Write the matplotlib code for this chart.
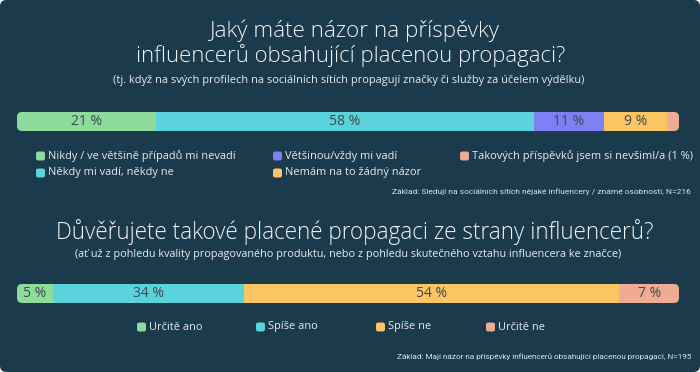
import matplotlib.pyplot as plt
from matplotlib.patches import FancyBboxPatch

# --- data ---
q1_title = ['Jaký máte názor na příspěvky', 'influencerů obsahující placenou propagaci?']
q1_sub = '(tj. když na svých profilech na sociálních sítích propagují značky či služby za účelem výdělku)'
q1_cats = ['Nikdy / ve většině případů mi nevadí', 'Někdy mi vadí, někdy ne', 'Většinou/vždy mi vadí',
           'Nemám na to žádný názor', 'Takových příspěvků jsem si nevšiml/a (1 %)']
q1_labels = [21, 58, 11, 9, None]
q1_widths = [21.0, 57.1, 10.6, 9.5, 1.8]
q1_base = 'Základ: Sledují na sociálních sítích nějaké influencery / známé osobnosti, N=216'

q2_title = 'Důvěřujete takové placené propagaci ze strany influencerů?'
q2_sub = '(ať už z pohledu kvality propagovaného produktu, nebo z pohledu skutečného vztahu influencera ke značce)'
q2_cats = ['Určitě ano', 'Spíše ano', 'Spíše ne', 'Určitě ne']
q2_labels = [5, 34, 54, 7]
q2_widths = [5.4, 28.9, 56.7, 9.0]
q2_base = 'Základ: Mají názor na příspěvky influencerů obsahující placenou propagaci, N=195'

bg = '#1b3a4b'
green, cyan, blue, orange, salmon = '#8edb9b', '#5bd3dc', '#7d80f2', '#fbc563', '#efab94'
q1_colors = [green, cyan, blue, orange, salmon]
q2_colors = [green, cyan, orange, salmon]

W, H = 700, 372
fig = plt.figure(figsize=(7, 3.72), dpi=100)
fig.patch.set_facecolor('white')
card = FancyBboxPatch((0, 0), 1, 1, boxstyle='round,pad=0,rounding_size=0.009',
                      mutation_aspect=W / H, transform=fig.transFigure,
                      facecolor=bg, edgecolor='none', zorder=-10)
fig.add_artist(card)

# overlay axes in pixel units for the texts and legends
ax = fig.add_axes([0, 0, 1, 1])
ax.set_xlim(0, W)
ax.set_ylim(H, 0)
ax.axis('off')
renderer = fig.canvas.get_renderer()

title_font = dict(family='Open Sans', weight='light', color='#f2f4f5')
body_font = dict(family='Open Sans', color='#e8ecee')
base_font = dict(family=['Roboto', 'DejaVu Sans'], color='#dfe4e6')


def fit_text(x, y, s, width, ha='center', size=10, **kw):
    # scale the font so the text spans roughly the width seen in the reference
    t = ax.text(x, y, s, ha=ha, va='center', fontsize=size, **kw)
    w = t.get_window_extent(renderer).width
    t.set_fontsize(size * width / w)
    return t


def draw_bar(x0, y0, x1, y1, widths, labels, colors):
    bax = fig.add_axes([x0 / W, 1 - y1 / H, (x1 - x0) / W, (y1 - y0) / H])
    total = sum(widths)
    bax.set_xlim(0, total)
    bax.set_ylim(-0.5, 0.5)
    bax.axis('off')
    r = 5
    clip = FancyBboxPatch((0, -0.5), total, 1,
                          boxstyle=f'round,pad=0,rounding_size={r * total / (x1 - x0)}',
                          mutation_aspect=(x1 - x0) / ((y1 - y0) * total),
                          facecolor='none', edgecolor='none', transform=bax.transData)
    bax.add_patch(clip)
    lefts = [sum(widths[:i]) for i in range(len(widths))]
    bars = bax.barh(0, widths, left=lefts, height=1, color=colors, linewidth=0)
    for b in bars:
        b.set_clip_path(clip)
    for left, w, lab in zip(lefts, widths, labels):
        if lab is not None:
            bax.text(left + w / 2, -0.02, f'{lab} %', ha='center', va='center',
                     fontsize=10, family='Open Sans', color='#3a4a4f')


def legend_item(x, y, color, text, size):
    ax.add_patch(FancyBboxPatch((x, y - 4.5), 9, 9, boxstyle='round,pad=0,rounding_size=2.2',
                                facecolor=color, edgecolor='none'))
    ax.text(x + 12, y, text, ha='left', va='center', fontsize=size, **body_font)


# --- question 1 ---
fit_text(354, 31, q1_title[0], 290, **title_font)
fit_text(351, 56, q1_title[1], 429, **title_font)
fit_text(349, 80, q1_sub, 470, **body_font)
draw_bar(17, 112, 679, 131, q1_widths, q1_labels, q1_colors)

probe = fit_text(48, 156, q1_cats[0], 185, ha='left', **body_font)
leg_size = probe.get_fontsize()
probe.remove()
q1_leg_pos = [(36, 156), (36, 173), (273, 156), (273, 173), (460, 156)]
for (lx, ly), c, t in zip(q1_leg_pos, q1_colors, q1_cats):
    legend_item(lx, ly, c, t, leg_size)
fit_text(691, 192, q1_base, 295, ha='right', **base_font)

# --- question 2 ---
fit_text(355, 232, q2_title, 598, **title_font)
fit_text(348, 255, q2_sub, 545, **body_font)
draw_bar(17, 284, 679, 303, q2_widths, q2_labels, q2_colors)

q2_leg_x = [137, 256, 376, 486]
for lx, c, t in zip(q2_leg_x, q2_colors, q2_cats):
    legend_item(lx, 327, c, t, leg_size)
fit_text(691, 357, q2_base, 295, ha='right', **base_font)

fig.savefig('out.png', dpi=100, facecolor=fig.get_facecolor())
